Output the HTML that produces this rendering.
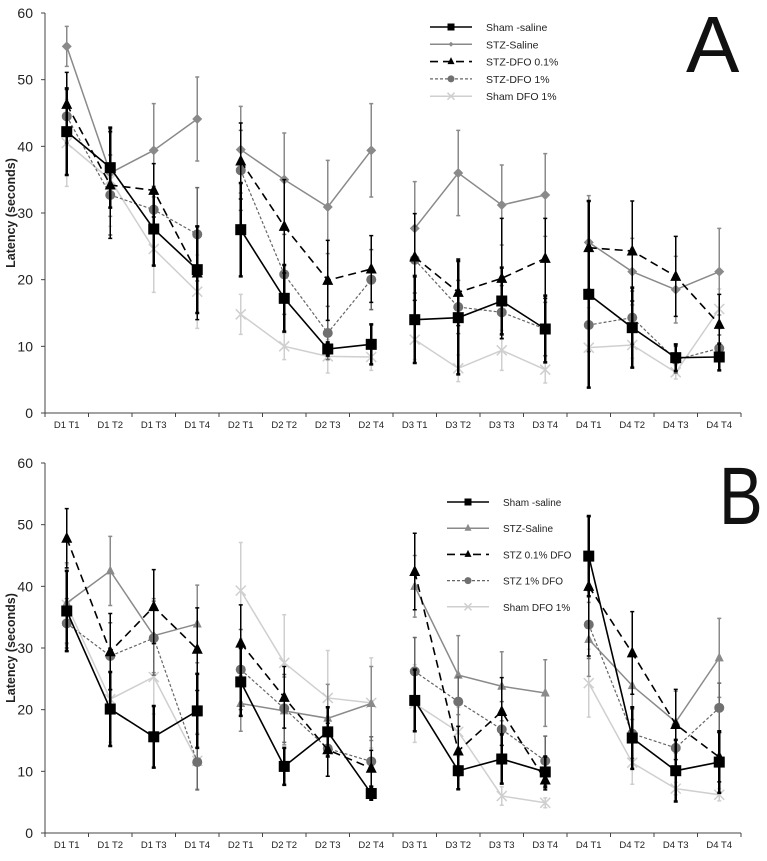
<!DOCTYPE html>
<html><head><meta charset="utf-8"><style>
body{margin:0;background:#fff;}
svg{display:block;font-family:"Liberation Sans",sans-serif;}
</style></head><body>
<svg id="chart" width="767" height="861" viewBox="0 0 767 861" xmlns="http://www.w3.org/2000/svg"></svg>
<script>
const categories=["D1 T1","D1 T2","D1 T3","D1 T4","D2 T1","D2 T2","D2 T3","D2 T4","D3 T1","D3 T2","D3 T3","D3 T4","D4 T1","D4 T2","D4 T3","D4 T4"];
const yTicks=[0,10,20,30,40,50,60];
const namesA=["Sham -saline","STZ-Saline","STZ-DFO 0.1%","STZ-DFO 1%","Sham DFO 1%"];
const namesB=["Sham -saline","STZ-Saline","STZ 0.1% DFO","STZ 1% DFO","Sham DFO 1%"];
const a_shamSaline=[42.2,36.8,27.6,21.5,27.5,17.2,9.6,10.3,14,14.3,16.8,12.6,17.8,12.8,8.3,8.4];
const a_stzSaline=[55,36,39.4,44.1,39.5,35,30.9,39.4,27.7,36,31.2,32.7,25.6,21.2,18.5,21.2];
const a_stzDfo01=[46.3,34.2,33.4,21,37.8,28,19.9,21.6,23.4,18.1,20.2,23.2,24.8,24.3,20.5,13.3];
const a_stzDfo1=[44.5,32.7,30.5,26.8,36.4,20.8,12,20,23,15.9,15.1,12.6,13.2,14.3,8,9.7];
const a_shamDfo1=[40.5,35,24.6,18.2,14.8,10,8.5,8.4,11,6.7,9.4,6.5,9.8,10.2,6.1,15.6];
const a_err_shamSaline=[6.5,6,5.5,6.5,7,5,1,3,6.5,8.5,5,5,14,6,2,2];
const a_err_stzSaline=[3,6.5,7,6.3,6.5,7,7,7,7,6.4,6,6.2,7,5,5,6.5];
const a_err_stzDfo01=[4.8,8,4,7,5.7,7,6,5,6.5,5,9,6,7,7.5,6,4.5];
const a_err_stzDfo1=[4,6,3.5,7,6,6,4,4.5,5,4,4,4,4,4,2,2];
const a_err_shamDfo1=[6.5,7,6.5,5.5,3,2,2.5,2,3,2,3,2,6,2,1,3];
const b_shamSaline=[36,20.1,15.6,19.8,24.5,10.8,16.4,6.4,21.5,10.1,12,9.9,44.9,15.4,10.1,11.5];
const b_stzSaline=[37.3,42.5,32,33.9,21,19.8,18.6,21,40,25.6,23.8,22.7,31.4,23.9,18,28.4];
const b_stzDfo01=[47.8,29.4,36.7,29.8,30.8,22,13.5,10.5,42.4,13.3,19.7,8.6,40,29.2,17.6,12.3];
const b_stzDfo1=[34,28.7,31.6,11.5,26.5,20.2,13.7,11.6,26.2,21.3,16.8,11.7,33.8,16.1,13.8,20.3];
const b_shamDfo1=[37,21.7,25.3,11.7,39.3,27.6,21.9,21.1,21,16.4,6,4.9,24.3,11.4,7.2,6.2];
const b_err_shamSaline=[6.5,6,5,6,5.5,3,4,1,5,3,4,2.5,6.5,5,5,5];
const b_err_stzSaline=[6.5,5.6,6,6.3,4.5,5.5,5.5,6,5,6.4,5.6,5.4,6,5.5,5,6.4];
const b_err_stzDfo01=[4.8,6.2,6,6.7,6.2,5,4.3,2.9,6.2,4,5.5,1.6,11.3,6.7,5.7,4];
const b_err_stzDfo1=[4,5.4,6,4.5,6.5,5.5,4.5,4,5.5,4,4.5,4,5.5,4,4,4];
const b_err_shamDfo1=[6.5,7,6,4.5,7.8,7.8,7.7,7.3,6.3,4,1.5,0.8,5.5,3.5,1,1];

const S='http://www.w3.org/2000/svg';
const svg=document.getElementById('chart');
function mk(tag,attrs,parent){const e=document.createElementNS(S,tag);for(const k in attrs)e.setAttribute(k,attrs[k]);(parent||svg).appendChild(e);return e;}
const baseStyles=[
 {stroke:"#000",dash:"",w:1.6,fill:"#000",m:"square",ms:5.5},
 {stroke:"#8a8a8a",dash:"",w:1.5,fill:"#8a8a8a",m:"diamond",ms:5},
 {stroke:"#000",dash:"8,5",w:1.6,fill:"#000",m:"tri",ms:5.5},
 {stroke:"#666",dash:"3,2",w:1.2,fill:"#707070",m:"circle",ms:5},
 {stroke:"#cfcfcf",dash:"",w:1.5,fill:"#cfcfcf",m:"x",ms:5}
];
function marker(g,m,x,y,s,fill,name){
 let e;
 if(m=="square")e=mk('rect',{x:x-s,y:y-s,width:2*s,height:2*s,fill:fill},g);
 else if(m=="diamond")e=mk('polygon',{points:`${x},${y-s} ${x+s},${y} ${x},${y+s} ${x-s},${y}`,fill:fill},g);
 else if(m=="tri")e=mk('polygon',{points:`${x},${y-s-1} ${x+s},${y+s-1} ${x-s},${y+s-1}`,fill:fill},g);
 else if(m=="circle")e=mk('circle',{cx:x,cy:y,r:s,fill:fill},g);
 else e=mk('path',{d:`M${x-s},${y-s}L${x+s},${y+s}M${x+s},${y-s}L${x-s},${y+s}`,stroke:fill,'stroke-width':1.5},g);
 
 
}
function panel(opt){
 const {top,bottom,id,series,errs,names,leg,letter,styles}=opt;
 const left=45,right=741;
 const band=(right-left)/categories.length;
 const xs=i=>left+band*(i+0.5);
 const ys=v=>bottom-(v/60)*(bottom-top);
 const g=mk('g',{});
 
 
 const ax=mk('path',{d:`M${left},${top}V${bottom}H${right}`,stroke:"#444",fill:"none",'stroke-width':1},g);
 
 
 yTicks.forEach(t=>{
  mk('line',{x1:left-4,x2:left,y1:ys(t),y2:ys(t),stroke:"#444"},g);
  const tx=mk('text',{x:left-12,y:ys(t)+5,'text-anchor':'end','font-size':14,fill:"#222"},g);
  tx.textContent=t;
  
  
 });
 for(let i=0;i<=categories.length;i++)mk('line',{x1:left+band*i,x2:left+band*i,y1:bottom,y2:bottom+4,stroke:"#444"},g);
 categories.forEach((c,i)=>{
  const tx=mk('text',{x:xs(i),y:bottom+15,'text-anchor':'middle','font-size':9.5,fill:"#222"},g);
  tx.textContent=c;
  
  
 });
 const yt=mk('text',{x:0,y:0,transform:`translate(15,${(top+bottom)/2}) rotate(-90)`,'text-anchor':'middle','font-size':12.5,'font-weight':'bold',fill:"#222"},g);
 yt.textContent="Latency (seconds)";
 
 
 [4,1,3,2,0].forEach(si=>{
  const st=styles[si],vals=series[si],er=errs[si];
  const sg=mk('g',{},g);
  
  
  vals.forEach((v,i)=>{
   const x=xs(i);
   const eb=mk('path',{d:`M${x},${ys(v+er[i])}V${ys(Math.max(0,v-er[i]))}M${x-2},${ys(v+er[i])}h4M${x-2},${ys(Math.max(0,v-er[i]))}h4`,stroke:st.stroke,'stroke-width':si==0?2.5:1.5,fill:"none"},sg);
   
   
  });
  for(let d=0;d<4;d++){
   const pts=[0,1,2,3].map(k=>`${xs(d*4+k)},${ys(vals[d*4+k])}`).join(' ');
   const pl=mk('polyline',{points:pts,fill:'none',stroke:st.stroke,'stroke-width':st.w,'stroke-dasharray':st.dash},sg);
   
   
  }
  vals.forEach((v,i)=>marker(sg,st.m,xs(i),ys(v),st.ms,st.fill,'point'));
 });
 const lg=mk('g',{},g);
 
 
 names.forEach((n,i)=>{
  const st=styles[i],y=leg.y+i*leg.dy;
  const le=mk('g',{},lg);
  
  
  mk('line',{x1:leg.x,x2:leg.x+42,y1:y,y2:y,stroke:st.stroke,'stroke-width':st.w,'stroke-dasharray':st.dash},le);
  marker(le,st.m,leg.x+21,y,st.m=="diamond"?2.5:3.5,st.fill,'legend-marker');
  const t=mk('text',{x:leg.x+56,y:y+4,'font-size':leg.fs,fill:"#222"},le);
  t.textContent=n;
 });
 const L=mk('text',{x:letter.x,y:letter.y,'font-size':letter.fs,fill:"#111",transform:letter.tf||''},g);
 L.textContent=letter.t;
 
 
}
const stylesB=baseStyles.map((s,i)=>i==1?Object.assign({},s,{m:"tri",ms:4.5}):s);
panel({top:13,bottom:413,id:'a',styles:baseStyles,series:[a_shamSaline,a_stzSaline,a_stzDfo01,a_stzDfo1,a_shamDfo1],
 errs:[a_err_shamSaline,a_err_stzSaline,a_err_stzDfo01,a_err_stzDfo1,a_err_shamDfo1],names:namesA,
 leg:{x:430,y:27,dy:17.3,fs:10.5},letter:{t:"A",x:686,y:72,fs:80}});
panel({top:463,bottom:833,id:'b',styles:stylesB,series:[b_shamSaline,b_stzSaline,b_stzDfo01,b_stzDfo1,b_shamDfo1],
 errs:[b_err_shamSaline,b_err_stzSaline,b_err_stzDfo01,b_err_stzDfo1,b_err_shamDfo1],names:namesB,
 leg:{x:447,y:502,dy:26.2,fs:10},letter:{t:"B",x:0,y:0,fs:82,tf:"translate(719,524) scale(0.8,1)"}});
</script>
</body></html>
